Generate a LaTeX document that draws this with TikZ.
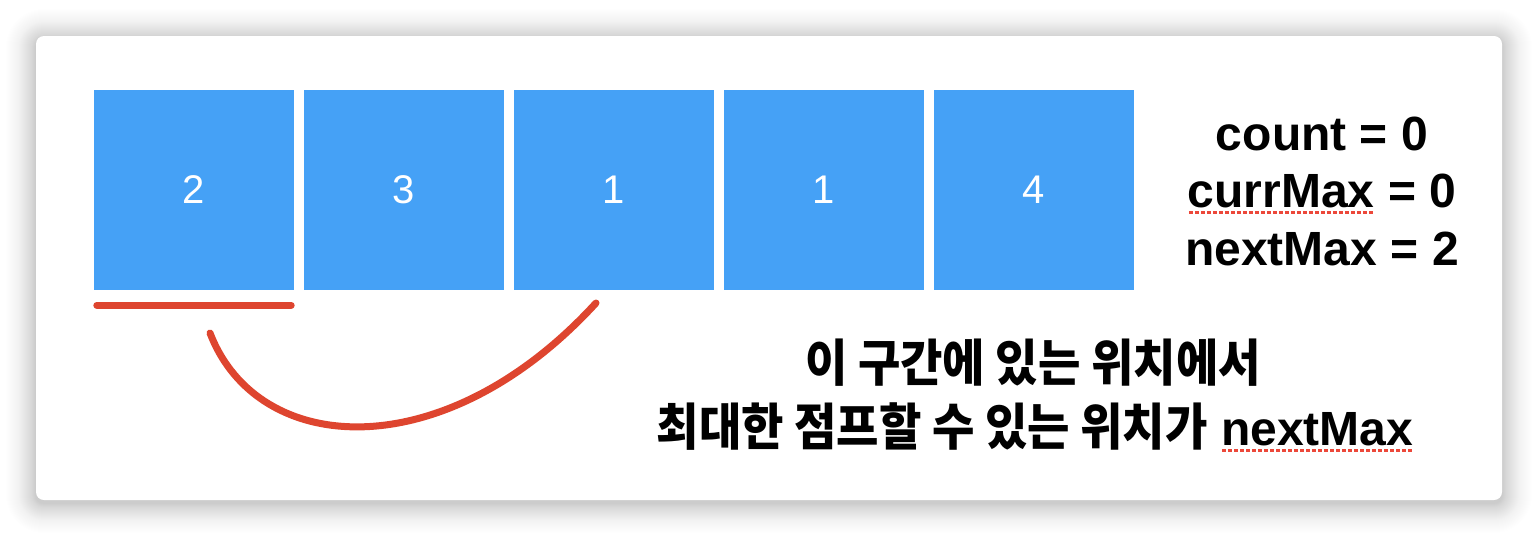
\documentclass[tikz,border=0pt]{standalone}
\usepackage{fontspec}
\setmainfont{Liberation Sans}
\newfontfamily\kr{Noto Sans CJK KR}
\definecolor{boxblue}{RGB}{69,161,246}
\definecolor{pen}{RGB}{221,60,36}
\definecolor{spell}{RGB}{236,72,58}
\newsavebox\wbox
\newcommand\spellu[1]{\sbox\wbox{#1}\rlap{\raisebox{-6.5pt}{\color{spell}\leaders\hbox to 6pt{\hss\rule{4pt}{3pt}\hss}\hskip\wd\wbox}}\usebox\wbox}
\tikzset{
  cell/.style={fill=boxblue, minimum width=200pt, minimum height=200pt, inner sep=0pt,
    text=white, font=\fontsize{40}{48}\selectfont},
  info/.style={anchor=base, inner sep=0pt, font=\fontsize{48}{56}\selectfont\bfseries},
  note/.style={anchor=base, inner sep=0pt, font=\fontsize{48}{56}\selectfont\bfseries},
  redstroke/.style={draw=pen, line width=7pt, line cap=round, opacity=0.95},
}
\begin{document}
\begin{tikzpicture}[x=1pt,y=-1pt]
\useasboundingbox (0,0) rectangle (1538,538);
\fill[white] (0,0) rectangle (1538,538);
\foreach \i in {1,...,36}{
  \pgfmathsetmacro\r{8+\i}
  \pgfmathsetmacro\op{0.011*(1-\i/37)}
  \fill[black, opacity=\op, rounded corners=\r pt] (36-\i,39-\i) rectangle (1502+\i,503+\i);
}
\fill[white, rounded corners=8pt] (36,36) rectangle (1502,500);

\node[cell] (b1) at (194,190) {2};
\node[cell] (b2) at (404,190) {3};
\node[cell] (b3) at (614,190) {1};
\node[cell] (b4) at (824,190) {1};
\node[cell] (b5) at (1034,190) {4};

\node[info] (count) at (1322,150) {count = 0};
\node[info] (curr) at (1322,207) {\spellu{currMax} = 0};
\node[info] (next) at (1322,265) {nextMax = 2};

\node[note] (l1) at (1033,381) {\scalebox{0.96}[1.05]{\kr\bfseries 이 구간에 있는 위치에서}};
\node[note] (l2) at (1035,445) {\scalebox{0.96}[1.05]{\kr\bfseries 최대한 점프할 수 있는 위치가} \spellu{nextMax}};

\coordinate (ua) at ([shift={(3,15)}]b1.south west);
\coordinate (ub) at ([shift={(-3,15)}]b1.south east);
\draw[redstroke] (ua) -- (ub);

\coordinate (ca) at (210,333);
\coordinate (cb) at (596,303);
\draw[redstroke] (ca) .. controls (258,458) and (445,468) .. (cb);
\end{tikzpicture}
\end{document}
